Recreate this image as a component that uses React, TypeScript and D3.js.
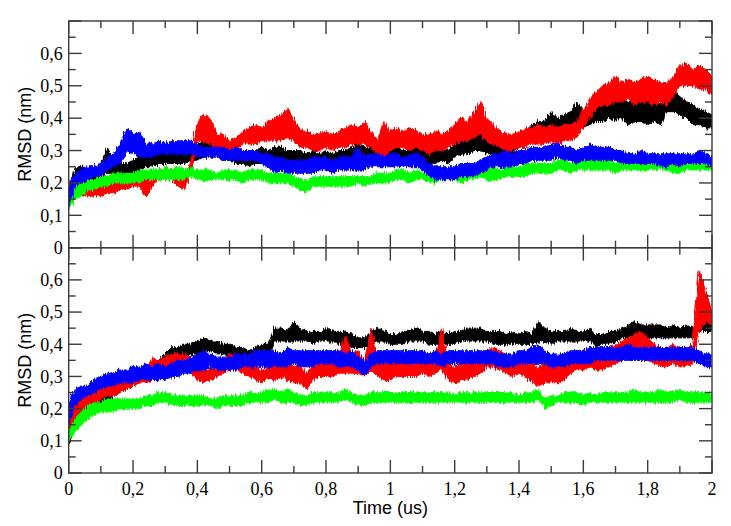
import React from 'react'
import * as d3 from 'd3'

// sampling grid, us (one min/max window every 0.02 us)
const time = d3.range(101).map(i => +(i * 0.02).toFixed(2))

// upper panel, RMSD (nm) min / max per window
const topBlackLo = [.12,.19,.20,.21,.21,.22,.23,.23,.22,.22, .22,.24,.25,.25,.26,.26,.26,.26,.26,.27, .27,.28,.28,.28,.27,.27,.26,.26,.25,.26, .26,.27,.26,.27,.27,.26,.26,.26,.26,.26, .26,.26,.26,.27,.27,.28,.27,.27,.27,.27, .27,.27,.27,.27,.27,.27,.26,.26,.27,.26, .28,.29,.29,.30,.30,.29,.29,.28,.28,.29, .31,.32,.34,.34,.35,.35,.35,.36,.36,.37, .37,.38,.39,.39,.40,.39,.40,.38,.39,.39, .38,.39,.38,.42,.42,.41,.40,.38,.38,.37, .37]
const topBlackHi = [.16,.25,.25,.24,.25,.26,.31,.27,.26,.26, .27,.29,.30,.29,.30,.29,.30,.31,.30,.31, .32,.33,.32,.33,.32,.31,.31,.30,.30,.30, .31,.30,.31,.31,.30,.30,.30,.29,.30,.29, .30,.29,.30,.30,.31,.32,.31,.31,.30,.31, .30,.31,.30,.30,.31,.30,.30,.31,.31,.30, .32,.33,.34,.35,.36,.33,.32,.32,.32,.33, .35,.36,.38,.39,.39,.42,.40,.41,.42,.45, .42,.43,.44,.45,.46,.45,.46,.45,.46,.45, .46,.45,.44,.47,.48,.47,.45,.44,.43,.42, .41]
const topRedLo = [.17,.16,.16,.16,.16,.16,.17,.17,.18,.18, .19,.19,.16,.19,.21,.21,.21,.19,.18,.23, .33,.33,.32,.31,.31,.29,.30,.32,.32,.32, .33,.33,.33,.33,.34,.33,.31,.31,.30,.30, .31,.30,.31,.31,.32,.32,.32,.31,.29,.28, .30,.31,.31,.30,.31,.30,.29,.30,.30,.31, .32,.33,.33,.34,.35,.33,.32,.31,.30,.30, .31,.31,.32,.32,.32,.33,.32,.33,.33,.34, .37,.40,.43,.44,.44,.45,.45,.46,.44,.45, .45,.44,.45,.44,.47,.50,.50,.50,.49,.49, .47]
const topRedHi = [.21,.20,.19,.19,.18,.19,.20,.21,.21,.21, .22,.22,.21,.22,.24,.25,.24,.22,.21,.27, .39,.41,.40,.35,.35,.33,.34,.36,.37,.38, .37,.39,.40,.41,.43,.40,.36,.36,.35,.35, .36,.35,.36,.37,.38,.37,.39,.36,.33,.39, .36,.37,.36,.37,.36,.35,.35,.36,.35,.36, .38,.40,.39,.42,.45,.40,.38,.36,.35,.35, .36,.37,.37,.38,.37,.38,.37,.38,.38,.39, .43,.46,.48,.50,.51,.53,.51,.52,.51,.52, .53,.52,.51,.51,.53,.56,.57,.55,.56,.55, .53]
const topGreenLo = [.12,.15,.16,.18,.18,.19,.19,.20,.20,.20, .20,.20,.21,.21,.21,.21,.21,.21,.21,.22, .21,.21,.21,.21,.21,.21,.21,.20,.21,.21, .21,.20,.20,.20,.20,.19,.18,.17,.19,.19, .19,.19,.19,.19,.19,.20,.19,.20,.20,.20, .20,.21,.21,.20,.21,.21,.20,.20,.21,.21, .21,.20,.21,.21,.22,.21,.21,.21,.22,.22, .22,.22,.23,.23,.23,.23,.24,.24,.23,.24, .24,.24,.24,.24,.24,.23,.24,.24,.24,.24, .24,.24,.24,.24,.23,.23,.24,.24,.24,.24, .24]
const topGreenHi = [.15,.19,.20,.21,.21,.22,.22,.23,.23,.23, .23,.24,.24,.24,.24,.25,.24,.25,.24,.25, .24,.24,.24,.23,.24,.24,.24,.23,.24,.24, .24,.23,.23,.23,.23,.22,.21,.21,.22,.22, .22,.22,.22,.22,.22,.22,.22,.22,.23,.23, .23,.24,.24,.23,.24,.23,.23,.23,.23,.24, .24,.23,.24,.24,.24,.24,.25,.24,.25,.25, .25,.26,.26,.26,.26,.26,.27,.27,.26,.27, .27,.27,.27,.27,.27,.26,.27,.27,.27,.26, .27,.27,.27,.26,.26,.27,.27,.27,.27,.27, .27]
const topBlueLo = [.13,.19,.20,.21,.22,.22,.24,.25,.26,.30, .29,.28,.28,.28,.29,.29,.29,.29,.29,.29, .28,.28,.28,.28,.27,.27,.27,.27,.27,.27, .26,.25,.23,.24,.23,.23,.23,.23,.23,.24, .24,.23,.24,.24,.24,.24,.24,.25,.25,.25, .25,.25,.25,.25,.25,.24,.22,.21,.21,.21, .21,.22,.22,.22,.23,.24,.25,.25,.25,.25, .26,.26,.27,.27,.27,.27,.28,.27,.27,.26, .27,.27,.27,.27,.27,.27,.26,.26,.26,.26, .26,.26,.25,.25,.26,.25,.26,.26,.26,.26, .25]
const topBlueHi = [.18,.23,.24,.25,.25,.26,.28,.29,.32,.37, .35,.36,.32,.32,.33,.32,.33,.33,.33,.33, .32,.31,.31,.31,.31,.30,.31,.30,.30,.30, .29,.29,.28,.28,.27,.27,.27,.27,.28,.28, .28,.27,.28,.28,.28,.31,.28,.29,.29,.28, .29,.29,.28,.29,.29,.28,.26,.25,.25,.25, .25,.26,.26,.26,.27,.28,.29,.29,.30,.29, .30,.30,.31,.31,.31,.32,.32,.31,.31,.30, .31,.32,.31,.31,.31,.30,.30,.29,.29,.30, .29,.29,.29,.29,.29,.29,.29,.29,.30,.29, .28]

// lower panel, RMSD (nm) min / max per window
const lowBlackLo = [.09,.14,.16,.18,.20,.21,.22,.24,.25,.26, .27,.28,.29,.30,.31,.33,.35,.36,.36,.37, .37,.38,.38,.37,.37,.36,.36,.35,.34,.36, .36,.36,.41,.41,.41,.41,.41,.41,.40,.41, .41,.41,.40,.40,.39,.39,.39,.40,.41,.41, .40,.40,.40,.41,.41,.41,.40,.40,.40,.40, .40,.41,.41,.41,.41,.41,.40,.40,.40,.40, .40,.40,.40,.41,.41,.40,.41,.41,.41,.41, .41,.41,.39,.40,.40,.41,.42,.42,.42,.42, .42,.42,.42,.42,.42,.42,.42,.42,.44,.44, .44]
const lowBlackHi = [.13,.18,.20,.22,.23,.25,.26,.28,.29,.30, .31,.32,.33,.34,.35,.37,.39,.39,.40,.40, .41,.42,.41,.41,.40,.40,.39,.39,.38,.39, .40,.40,.45,.45,.44,.47,.45,.44,.44,.44, .45,.44,.44,.44,.43,.42,.42,.44,.45,.44, .43,.43,.44,.44,.45,.44,.44,.43,.44,.43, .44,.44,.45,.45,.45,.44,.44,.44,.43,.44, .43,.44,.43,.47,.45,.44,.44,.44,.45,.44, .44,.45,.43,.43,.44,.44,.45,.46,.47,.46, .46,.46,.46,.45,.46,.45,.46,.45,.49,.48, .47]
const lowRedLo = [.14,.17,.19,.20,.21,.23,.24,.24,.25,.26, .27,.28,.28,.29,.30,.31,.31,.32,.32,.31, .29,.28,.29,.30,.31,.32,.32,.31,.30,.29, .28,.29,.29,.30,.29,.28,.28,.26,.29,.30, .30,.30,.31,.31,.31,.31,.30,.32,.30,.29, .29,.30,.30,.30,.30,.31,.30,.31,.32,.29, .28,.29,.29,.30,.31,.33,.33,.32,.31,.30, .31,.30,.28,.27,.28,.28,.28,.29,.31,.32, .32,.33,.32,.32,.33,.34,.35,.36,.36,.35, .35,.34,.33,.33,.34,.33,.33,.34,.44,.47, .46]
const lowRedHi = [.20,.22,.23,.24,.25,.27,.28,.28,.29,.29, .30,.31,.32,.36,.35,.36,.37,.37,.37,.36, .33,.33,.32,.34,.35,.37,.37,.36,.34,.33, .32,.33,.34,.35,.34,.33,.33,.31,.34,.35, .35,.36,.36,.43,.37,.38,.35,.45,.36,.35, .34,.35,.36,.36,.35,.36,.36,.37,.45,.34, .33,.34,.34,.35,.36,.38,.39,.38,.37,.36, .37,.36,.34,.33,.34,.33,.34,.35,.37,.38, .38,.39,.38,.38,.39,.40,.41,.42,.43,.44, .42,.40,.39,.39,.40,.39,.38,.40,.63,.57, .50]
const lowGreenLo = [.10,.13,.15,.17,.18,.19,.19,.19,.20,.20, .20,.20,.21,.21,.22,.22,.21,.21,.21,.21, .21,.21,.21,.20,.21,.21,.21,.21,.22,.22, .22,.22,.23,.22,.22,.22,.21,.21,.22,.22, .22,.22,.22,.23,.22,.21,.21,.22,.22,.22, .22,.22,.22,.22,.22,.22,.22,.22,.22,.22, .22,.22,.22,.22,.22,.22,.22,.22,.22,.22, .22,.22,.22,.23,.20,.21,.22,.22,.22,.22, .21,.22,.22,.22,.22,.22,.22,.22,.22,.22, .22,.22,.22,.22,.22,.23,.22,.22,.22,.22, .22]
const lowGreenHi = [.13,.17,.19,.21,.22,.22,.23,.23,.23,.23, .23,.23,.24,.24,.25,.25,.24,.24,.24,.24, .24,.24,.23,.23,.24,.24,.24,.24,.25,.25, .25,.26,.26,.25,.26,.25,.24,.24,.25,.25, .25,.25,.25,.26,.25,.24,.24,.25,.25,.25, .25,.25,.25,.25,.25,.25,.25,.25,.25,.25, .24,.25,.25,.25,.25,.25,.25,.25,.25,.25, .24,.25,.25,.26,.23,.24,.24,.25,.25,.25, .24,.25,.24,.25,.25,.25,.25,.25,.26,.25, .25,.25,.26,.25,.25,.26,.25,.25,.25,.25, .25]
const lowBlueLo = [.15,.21,.23,.24,.25,.26,.27,.27,.28,.28, .28,.29,.29,.29,.29,.29,.30,.30,.31,.31, .32,.32,.33,.32,.32,.32,.32,.33,.33,.33, .33,.33,.33,.33,.33,.34,.33,.33,.33,.34, .34,.34,.33,.33,.33,.32,.30,.33,.34,.34, .34,.34,.34,.34,.34,.34,.34,.34,.33,.34, .34,.34,.34,.34,.34,.34,.34,.33,.33,.33, .34,.34,.34,.34,.34,.33,.33,.33,.34,.34, .34,.34,.35,.35,.35,.35,.35,.35,.35,.35, .35,.35,.35,.35,.35,.35,.35,.35,.34,.33, .33]
const lowBlueHi = [.21,.26,.27,.27,.29,.30,.31,.31,.32,.32, .33,.33,.34,.33,.34,.33,.34,.35,.35,.36, .37,.38,.37,.36,.36,.36,.37,.37,.37,.38, .38,.38,.38,.37,.39,.38,.38,.38,.38,.38, .38,.38,.38,.37,.38,.36,.35,.37,.38,.38, .38,.38,.38,.38,.38,.38,.37,.38,.37,.38, .38,.38,.38,.38,.38,.38,.38,.37,.37,.37, .38,.38,.39,.40,.38,.37,.37,.37,.38,.38, .38,.39,.39,.39,.39,.39,.39,.40,.39,.39, .39,.39,.39,.39,.39,.39,.39,.39,.38,.37, .37]

const colors = ['#000000', '#ff0000', '#00ff00', '#0000ff']
const xMajor = d3.range(0, 2.001, 0.2)
const xMinor = d3.range(0.1, 2, 0.2)
const yMajor = d3.range(0, 0.701, 0.1)
const yMinor = d3.range(0.05, 0.7, 0.1)

const panels = [
  { top: 21, bottom: 247.7, showX: false,
    series: [[topBlackLo, topBlackHi], [topRedLo, topRedHi], [topGreenLo, topGreenHi], [topBlueLo, topBlueHi]] },
  { top: 247.7, bottom: 473, showX: true,
    series: [[lowBlackLo, lowBlackHi], [lowRedLo, lowRedHi], [lowGreenLo, lowGreenHi], [lowBlueLo, lowBlueHi]] },
]

const W = 731
const H = 526
const left = 68.7
const right = 712

const locale = d3.formatLocale({ decimal: ',', thousands: '.', grouping: [3], currency: ['', ''] })
const fmt = locale.format('.1~f')

const axisColor = '#3a3a3a'
const serif = '"Liberation Serif", "Times New Roman", serif'
const sans = '"Liberation Sans", Arial, sans-serif'

const Panel = ({ p, idx }: { p: any, idx: number }) => {
  const x = d3.scaleLinear().domain([0, 2]).range([left, right])
  const y = d3.scaleLinear().domain([0, 0.7]).range([p.bottom, p.top])
  const clipId = 'clip' + idx
  return (
    <g>
      <clipPath id={clipId}>
        <rect x={left} y={p.top} width={right - left} height={p.bottom - p.top} />
      </clipPath>
      <g clipPath={`url(#${clipId})`}>
        {p.series.map((s: number[][], k: number) => {
          const area = d3.area<number>()
            .x(d => x(d))
            .y0((_, i) => y(s[0][i]))
            .y1((_, i) => y(s[1][i]))
          return <path key={k} d={area(time) || ''} fill={colors[k]} stroke={colors[k]}
            strokeWidth={1} filter="url(#jitter)" />
        })}
      </g>
      <rect x={left} y={p.top} width={right - left} height={p.bottom - p.top} fill="none" stroke={axisColor} strokeWidth={1.4} />
      <g stroke={axisColor} strokeWidth={1.4}>
        {xMajor.map(v => (
          <g key={'xM' + v}>
            <line x1={x(v)} x2={x(v)} y1={p.bottom} y2={p.bottom - 13} />
            <line x1={x(v)} x2={x(v)} y1={p.top} y2={p.top + 13} />
          </g>
        ))}
        {xMinor.map(v => (
          <g key={'xm' + v}>
            <line x1={x(v)} x2={x(v)} y1={p.bottom} y2={p.bottom - 7} />
            <line x1={x(v)} x2={x(v)} y1={p.top} y2={p.top + 7} />
          </g>
        ))}
        {yMajor.map(v => (
          <g key={'yM' + v}>
            <line x1={left} x2={left + 13} y1={y(v)} y2={y(v)} />
            <line x1={right} x2={right - 13} y1={y(v)} y2={y(v)} />
          </g>
        ))}
        {yMinor.map(v => (
          <g key={'ym' + v}>
            <line x1={left} x2={left + 7} y1={y(v)} y2={y(v)} />
            <line x1={right} x2={right - 7} y1={y(v)} y2={y(v)} />
          </g>
        ))}
      </g>
      <g style={{ fontFamily: serif, fontSize: '18px' }} fill="#000">
        {yMajor.filter(v => v < 0.65).map(v => (
          <text key={'yl' + v} x={left - 6} y={y(v)} dy="0.35em" textAnchor="end">{fmt(v)}</text>
        ))}
        {p.showX && xMajor.map(v => (
          <text key={'xl' + v} x={x(v)} y={p.bottom + 22} textAnchor="middle">{fmt(v)}</text>
        ))}
      </g>
      <text transform={`translate(31,${(p.top + p.bottom) / 2}) rotate(-90)`} textAnchor="middle"
        style={{ fontFamily: sans, fontSize: '18px' }} fill="#000">RMSD (nm)</text>
    </g>
  )
}

const App = () => {
  return (
    <svg width={W} height={H} viewBox={`0 0 ${W} ${H}`}
      style={{ position: 'absolute', left: 0, top: 0, background: '#fff' }}>
      <defs>
        {/* rough edges, a rendering effect only, the data stays as read */}
        <filter id="jitter" x="-2%" y="-10%" width="104%" height="120%">
          <feTurbulence type="fractalNoise" baseFrequency="0.9 0.08" numOctaves={1} seed={3} result="n" />
          <feDisplacementMap in="SourceGraphic" in2="n" scale={7} xChannelSelector="R" yChannelSelector="G" />
        </filter>
      </defs>
      {panels.map((p, i) => <Panel key={i} p={p} idx={i} />)}
      <text x={(left + right) / 2} y={514} textAnchor="middle"
        style={{ fontFamily: sans, fontSize: '18px' }} fill="#000">Time (us)</text>
    </svg>
  )
}

export default App
